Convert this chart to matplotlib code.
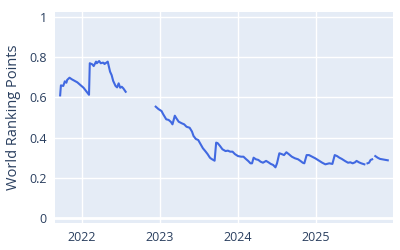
import numpy as np
import matplotlib
matplotlib.use("Agg")
import matplotlib.pyplot as plt

# decimal-year dates and world ranking points (NaN = gap in data)
years = [
    2021.72, 2021.73, 2021.76, 2021.78, 2021.80, 2021.81, 2021.84, 2021.87, 2021.94, 2022.02, 2022.07, 2022.09,
    2022.10, 2022.13, 2022.15, 2022.18, 2022.19, 2022.22, 2022.24, 2022.27, 2022.29, 2022.30, 2022.31, 2022.33,
    2022.36, 2022.38, 2022.40, 2022.43, 2022.45, 2022.47, 2022.49, 2022.51, 2022.53, 2022.56,
    2022.75,
    2022.945, 2022.98, 2023.02, 2023.04, 2023.08, 2023.11, 2023.14, 2023.16, 2023.19, 2023.21, 2023.24, 2023.28,
    2023.31, 2023.34, 2023.38, 2023.41, 2023.43, 2023.46, 2023.49, 2023.52, 2023.55, 2023.58, 2023.61, 2023.64,
    2023.66, 2023.70, 2023.72, 2023.74, 2023.77, 2023.80, 2023.84, 2023.87, 2023.90, 2023.93, 2023.96, 2024.00,
    2024.04, 2024.07, 2024.10, 2024.13, 2024.16, 2024.18, 2024.20, 2024.23, 2024.26, 2024.29, 2024.32, 2024.36,
    2024.39, 2024.42, 2024.45, 2024.48, 2024.50, 2024.53, 2024.56, 2024.59, 2024.62, 2024.65, 2024.69, 2024.73,
    2024.77, 2024.80, 2024.83, 2024.85, 2024.88, 2024.91, 2024.95, 2024.99, 2025.04, 2025.08, 2025.12, 2025.17,
    2025.21, 2025.24, 2025.27, 2025.30, 2025.33, 2025.37, 2025.41, 2025.44, 2025.47, 2025.50, 2025.52, 2025.55,
    2025.58, 2025.62, 2025.635, 2025.66, 2025.68, 2025.70, 2025.72, 2025.74, 2025.76, 2025.79, 2025.82, 2025.85,
    2025.89, 2025.92,
]
points = [
    0.610, 0.660, 0.657, 0.680, 0.673, 0.687, 0.698, 0.690, 0.675, 0.648, 0.623, 0.613,
    0.770, 0.765, 0.756, 0.778, 0.770, 0.781, 0.770, 0.773, 0.766, 0.770, 0.772, 0.778,
    0.728, 0.711, 0.682, 0.657, 0.650, 0.670, 0.648, 0.653, 0.645, 0.628,
    np.nan,
    0.554, 0.542, 0.532, 0.517, 0.491, 0.488, 0.478, 0.466, 0.509, 0.496, 0.479, 0.471,
    0.466, 0.454, 0.449, 0.430, 0.408, 0.393, 0.388, 0.368, 0.347, 0.333, 0.318, 0.300,
    0.294, 0.285, 0.375, 0.372, 0.358, 0.342, 0.333, 0.335, 0.330, 0.330, 0.318, 0.308,
    0.305, 0.305, 0.294, 0.284, 0.272, 0.272, 0.300, 0.292, 0.289, 0.280, 0.275, 0.284,
    0.277, 0.269, 0.264, 0.252, 0.272, 0.322, 0.318, 0.313, 0.327, 0.318, 0.305, 0.297,
    0.292, 0.284, 0.275, 0.272, 0.313, 0.313, 0.305, 0.297, 0.285, 0.275, 0.267, 0.272,
    0.269, 0.313, 0.308, 0.300, 0.294, 0.284, 0.275, 0.277, 0.272, 0.277, 0.284, 0.277,
    0.272, 0.267, np.nan, 0.272, 0.275, 0.289, 0.292, np.nan, 0.308, 0.300, 0.294, 0.292,
    0.289, 0.287,
]
xticks = [2022, 2023, 2024, 2025]
yticks = [0, 0.2, 0.4, 0.6, 0.8, 1]
ytick_labels = ["0", "0.2", "0.4", "0.6", "0.8", "1"]

plt.rcParams['font.family'] = ['Open Sans', 'DejaVu Sans']
text_color = "#2a3f5f"

fig = plt.figure(figsize=(4, 2.5), dpi=100)
ax = fig.add_axes([0.1375, 0.108, 0.845, 0.844])
ax.set_facecolor("#E5ECF6")
for s in ax.spines.values():
    s.set_visible(False)

ax.set_xlim(2021.654, 2025.987)
ax.set_ylim(-0.025, 1.025)
ax.set_xticks(xticks)
ax.set_xticklabels([str(t) for t in xticks])
ax.set_yticks(yticks)
ax.set_yticklabels(ytick_labels)
ax.grid(True, color="white", linewidth=1.0)
ax.set_axisbelow(True)
ax.axhline(0, color="white", linewidth=2.0, zorder=1)
ax.tick_params(length=0, labelsize=9, colors=text_color, pad=6)

ax.plot(years, points, color="#4169E1", linewidth=1.5, zorder=3)
ax.set_ylabel("World Ranking Points", fontsize=10.5, color=text_color, labelpad=6)

fig.savefig("out.png", dpi=100)
